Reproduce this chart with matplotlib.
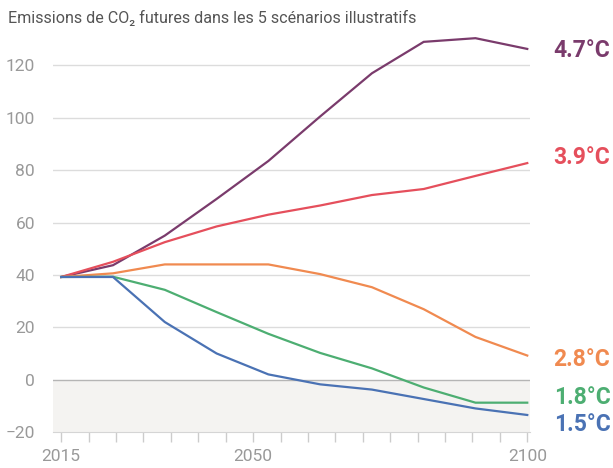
import numpy as np
import matplotlib
matplotlib.use('Agg')
import matplotlib.pyplot as plt

plt.rcParams['font.family'] = ['Roboto', 'DejaVu Sans']

# data: emissions (GtCO2/an), 10 points per scenario
years = [2015, 2020, 2030, 2040, 2050, 2060, 2070, 2080, 2090, 2100]
labels = ['4.7°C', '3.9°C', '2.8°C', '1.8°C', '1.5°C']
ssp585 = [39.2, 43.7, 55.0, 69.0, 83.5, 100.5, 117.0, 129.0, 130.4, 126.3]
ssp370 = [39.2, 45.0, 52.5, 58.5, 63.0, 66.5, 70.5, 72.8, 77.8, 82.7]
ssp245 = [39.2, 40.6, 44.0, 44.0, 44.0, 40.3, 35.3, 26.9, 16.3, 9.2]
ssp126 = [39.2, 39.3, 34.3, 25.8, 17.5, 10.2, 4.3, -3.0, -8.8, -8.8]
ssp119 = [39.2, 39.2, 22.0, 10.0, 2.0, -1.8, -3.8, -7.4, -11.0, -13.5]

series = [ssp585, ssp370, ssp245, ssp126, ssp119]
colors = ['#7a3b6c', '#e54f5c', '#f08a50', '#4dae72', '#4a72b4']
# small vertical nudges (points) so the end labels don't overlap
nudge = [-1, 4, -3, 4, -7]

fig = plt.figure(figsize=(6.13, 4.68), dpi=100)
ax = fig.add_axes([53 / 613, 36 / 468, 477 / 613, 398 / 468])

# the original draws the points evenly spaced along the year axis
xpos = np.linspace(years[0], years[-1], len(years))

ax.axhspan(-20, 0, color='#f4f3f1', zorder=0, lw=0)
for v in range(20, 140, 20):
    ax.axhline(v, color='#dcdcdc', lw=1, zorder=1)
ax.axhline(0, color='#b5b5b5', lw=1, zorder=1)

for vals, col, lab, dy in zip(series, colors, labels, nudge):
    ax.plot(xpos, vals, color=col, lw=1.6, zorder=3, solid_joinstyle='miter')
    ax.annotate(lab, xy=(xpos[-1], vals[-1]), xytext=(19, dy),
                textcoords='offset points', color=col, fontsize=16.5,
                fontweight='bold', va='center', ha='left', annotation_clip=False)

ax.set_xlim(2013.5, 2100.5)
ax.set_ylim(-20, 132)

ax.set_xticks(range(2015, 2101, 5))
ax.set_xticklabels([str(y) if y in (2015, 2050, 2100) else '' for y in range(2015, 2101, 5)])
ax.set_yticks(range(-20, 121, 20))
ax.tick_params(axis='x', length=7, width=1, color='#cccccc', labelcolor='#999999',
               labelsize=12.5, pad=5)
ax.tick_params(axis='y', length=0, labelcolor='#999999', labelsize=12.5, pad=13)

for s in ['top', 'right', 'left']:
    ax.spines[s].set_visible(False)
ax.spines['bottom'].set_color('#d5d5d5')

fig.text(8 / 613, 1 - 18 / 468, 'Emissions de CO₂ futures dans les 5 scénarios illustratifs',
         fontsize=11.6, color='#555555', va='center', ha='left')

fig.savefig('out.png', dpi=100)
